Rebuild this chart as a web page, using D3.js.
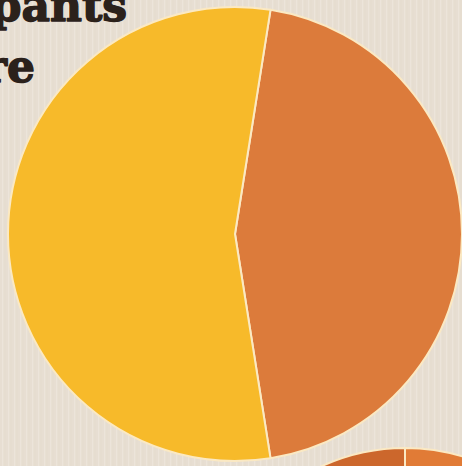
<!DOCTYPE html>
<html>
<head>
<meta charset="utf-8">
<script src="https://cdn.jsdelivr.net/npm/d3@7"></script>
<style>
  html, body { margin: 0; padding: 0; background: #e7ded2; overflow: hidden; }
  svg { display: block; }
</style>
</head>
<body>
<svg id="chart" width="462" height="466"></svg>
<script>
// Main pie: share of participants
const mainCategories = ["No", "Yes"];
const mainValues = [45, 55];
const mainColors = ["#dc7b3b", "#f7ba2a"];

// Neighbouring pie (partly visible in the lower right corner)
const nextCategories = ["A", "B"];
const nextValues = [40, 60];
const nextColors = ["#e17b36", "#cc672c"];

// Heading fragments
const titleLines = ["pants", "re"];

const W = 462, H = 466;
const svg = d3.select("#chart");

// Paper background with faint vertical grain
const defs = svg.append("defs");
const pat = defs.append("pattern")
  .attr("id", "grain").attr("patternUnits", "userSpaceOnUse")
  .attr("width", 6).attr("height", 466);
pat.append("rect").attr("width", 6).attr("height", 466).attr("fill", "#e7ded2");
pat.append("rect").attr("x", 2).attr("width", 1.2).attr("height", 466).attr("fill", "#eee7dd").attr("opacity", 0.7);
pat.append("rect").attr("x", 4.5).attr("width", 1).attr("height", 466).attr("fill", "#ded4c7").attr("opacity", 0.4);
svg.append("rect").attr("width", W).attr("height", H).attr("fill", "url(#grain)");

// Title text (heavy slab-style serif)
const title = svg.append("g")
  .attr("font-family", "'DejaVu Serif', serif")
  .attr("font-weight", "bold")
  .attr("font-size", 44)
  .attr("fill", "#2b211b")
  .attr("stroke", "#2b211b")
  .attr("stroke-width", 1.4)
  .attr("stroke-linejoin", "round");
title.append("text").attr("x", 127).attr("y", 21).attr("text-anchor", "end").text(titleLines[0]);
title.append("text").attr("x", 35).attr("y", 82).attr("text-anchor", "end").text(titleLines[1]);

function drawPie(values, colors, cx, cy, r, startDeg) {
  const pie = d3.pie().sort(null)
    .startAngle(startDeg * Math.PI / 180)
    .endAngle(startDeg * Math.PI / 180 + 2 * Math.PI);
  const arc = d3.arc().innerRadius(0).outerRadius(r);
  const g = svg.append("g").attr("transform", `translate(${cx},${cy})`);
  g.selectAll("path")
    .data(pie(values))
    .join("path")
    .attr("d", arc)
    .attr("fill", (d, i) => colors[i])
    .attr("stroke", "#fbe9c3")
    .attr("stroke-width", 2)
    .attr("stroke-linejoin", "round");
}

drawPie(nextValues, nextColors, 405, 448 + 200, 200, 0);
drawPie(mainValues, mainColors, 235, 234, 227, 9);
</script>
</body>
</html>
